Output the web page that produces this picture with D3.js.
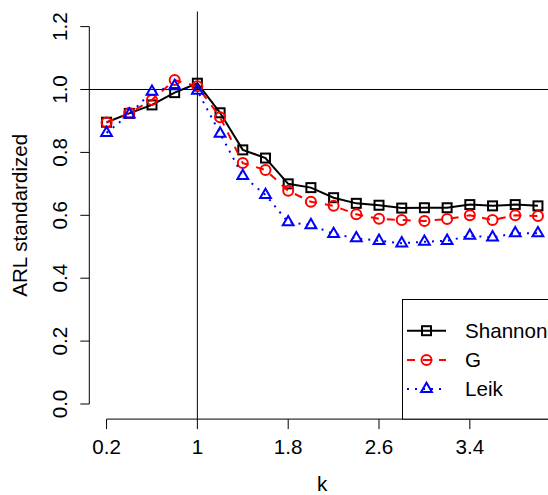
<!DOCTYPE html>
<html>
<head>
<meta charset="utf-8">
<script src="https://cdn.jsdelivr.net/npm/d3@7"></script>
<style>
  html, body { margin: 0; padding: 0; background: #fff; }
  svg { display: block; }
  text { font-family: "Liberation Sans", Arial, Helvetica, sans-serif; fill: #000; }
</style>
</head>
<body>
<svg id="chart" width="548" height="495"></svg>
<script>
// Shift size k and the standardized ARL of the three dispersion-based charts
const kValues = [0.2, 0.4, 0.6, 0.8, 1.0, 1.2, 1.4, 1.6, 1.8, 2.0,
                 2.2, 2.4, 2.6, 2.8, 3.0, 3.2, 3.4, 3.6, 3.8, 4.0];
const shannon = [0.896, 0.924, 0.951, 0.990, 1.020, 0.926, 0.808, 0.782, 0.700, 0.688,
                 0.656, 0.638, 0.632, 0.623, 0.624, 0.624, 0.634, 0.630, 0.634, 0.630];
const gIndex  = [0.895, 0.925, 0.967, 1.030, 1.010, 0.912, 0.766, 0.744, 0.678, 0.643,
                 0.630, 0.603, 0.589, 0.585, 0.582, 0.588, 0.600, 0.585, 0.600, 0.598];
const leik    = [0.862, 0.921, 0.993, 1.011, 0.996, 0.860, 0.725, 0.665, 0.578, 0.569,
                 0.541, 0.527, 0.519, 0.511, 0.516, 0.519, 0.535, 0.530, 0.543, 0.543];

const xTicks = [0.2, 1, 1.8, 2.6, 3.4];
const yTicks = [0.0, 0.2, 0.4, 0.6, 0.8, 1.0, 1.2];
const seriesNames = ["Shannon", "G", "Leik"];

const FONT = 20.6;
const svg = d3.select("#chart");

// Plot region with the usual 4% padding around the data range
const x = d3.scaleLinear().domain([0.048, 4.152]).range([89.3, 555.2]);
const y = d3.scaleLinear().domain([-0.048, 1.248]).range([419.1, 11.5]);

const series = [
  { name: seriesNames[0], values: shannon, color: "#000000", dash: null,  shape: "square" },
  { name: seriesNames[1], values: gIndex,  color: "#FF0000", dash: "8,8", shape: "circle" },
  { name: seriesNames[2], values: leik,    color: "#0000FF", dash: "2,6", shape: "triangle" }
];

// Reference lines at k = 1 and ARL = 1
svg.append("line")
  .attr("x1", x(1)).attr("x2", x(1))
  .attr("y1", y.range()[1]).attr("y2", y.range()[0])
  .attr("stroke", "#000").attr("stroke-width", 1);
svg.append("line")
  .attr("x1", x.range()[0]).attr("x2", x.range()[1])
  .attr("y1", y(1)).attr("y2", y(1))
  .attr("stroke", "#000").attr("stroke-width", 1);

// Y axis
const yAxis = svg.append("g");
yAxis.append("line")
  .attr("x1", x.range()[0]).attr("x2", x.range()[0])
  .attr("y1", y(yTicks[0])).attr("y2", y(yTicks[yTicks.length - 1]))
  .attr("stroke", "#000");
yAxis.selectAll("line.tick").data(yTicks).enter().append("line")
  .attr("class", "tick")
  .attr("x1", x.range()[0]).attr("x2", x.range()[0] - 9)
  .attr("y1", d => y(d)).attr("y2", d => y(d))
  .attr("stroke", "#000");
yAxis.selectAll("text").data(yTicks).enter().append("text")
  .attr("transform", d => `translate(66.5,${y(d)}) rotate(-90)`)
  .attr("text-anchor", "middle")
  .attr("font-size", FONT)
  .text(d => d3.format(".1f")(d));

// X axis
const xAxis = svg.append("g");
xAxis.append("line")
  .attr("x1", x(xTicks[0])).attr("x2", x.range()[1])
  .attr("y1", y.range()[0]).attr("y2", y.range()[0])
  .attr("stroke", "#000");
xAxis.selectAll("line.tick").data(xTicks).enter().append("line")
  .attr("class", "tick")
  .attr("x1", d => x(d)).attr("x2", d => x(d))
  .attr("y1", y.range()[0]).attr("y2", y.range()[0] + 10)
  .attr("stroke", "#000");
xAxis.selectAll("text").data(xTicks).enter().append("text")
  .attr("x", d => x(d)).attr("y", 454)
  .attr("text-anchor", "middle")
  .attr("font-size", FONT)
  .text(d => String(d));

// Axis titles
svg.append("text")
  .attr("x", (x.range()[0] + x.range()[1]) / 2).attr("y", 491)
  .attr("text-anchor", "middle").attr("font-size", FONT)
  .text("k");
svg.append("text")
  .attr("transform", `translate(27,${(y.range()[0] + y.range()[1]) / 2}) rotate(-90)`)
  .attr("text-anchor", "middle").attr("font-size", FONT)
  .text("ARL standardized");

// Marker drawing helper (open symbols)
function marker(sel, shape, color) {
  if (shape === "square") {
    sel.append("rect").attr("x", -4.5).attr("y", -4.5).attr("width", 9).attr("height", 9)
      .attr("fill", "none").attr("stroke", color).attr("stroke-width", 2);
  } else if (shape === "circle") {
    sel.append("circle").attr("r", 5)
      .attr("fill", "none").attr("stroke", color).attr("stroke-width", 2);
  } else {
    sel.append("path").attr("d", "M0,-6.2L5.4,3.1L-5.4,3.1Z")
      .attr("fill", "none").attr("stroke", color).attr("stroke-width", 2)
      .attr("stroke-linejoin", "miter");
  }
}

const line = d3.line().x(d => x(d[0])).y(d => y(d[1]));

series.forEach(s => {
  const pts = kValues.map((k, i) => [k, s.values[i]]);
  const g = svg.append("g");
  g.append("path")
    .attr("d", line(pts))
    .attr("fill", "none")
    .attr("stroke", s.color)
    .attr("stroke-width", 2)
    .attr("stroke-dasharray", s.dash);
  g.selectAll("g.pt").data(pts).enter().append("g")
    .attr("class", "pt")
    .attr("transform", d => `translate(${x(d[0])},${y(d[1])})`)
    .each(function () { marker(d3.select(this), s.shape, s.color); });
});

// Legend in the bottom-right corner
const legend = svg.append("g");
legend.append("rect")
  .attr("x", 402.5).attr("y", 299.5)
  .attr("width", 170).attr("height", y.range()[0] - 299.5)
  .attr("fill", "#fff").attr("stroke", "#000").attr("stroke-width", 1);
const rowY = [330.7, 360, 389];
series.forEach((s, i) => {
  const row = legend.append("g").attr("transform", `translate(0,${rowY[i]})`);
  row.append("line")
    .attr("x1", 407).attr("x2", 446).attr("y1", 0).attr("y2", 0)
    .attr("stroke", s.color).attr("stroke-width", 2)
    .attr("stroke-dasharray", s.dash);
  const m = row.append("g").attr("transform", "translate(426.5,0)");
  marker(m, s.shape, s.color);
  row.append("text")
    .attr("x", 465).attr("y", 7.4)
    .attr("font-size", FONT)
    .text(s.name);
});
</script>
</body>
</html>
